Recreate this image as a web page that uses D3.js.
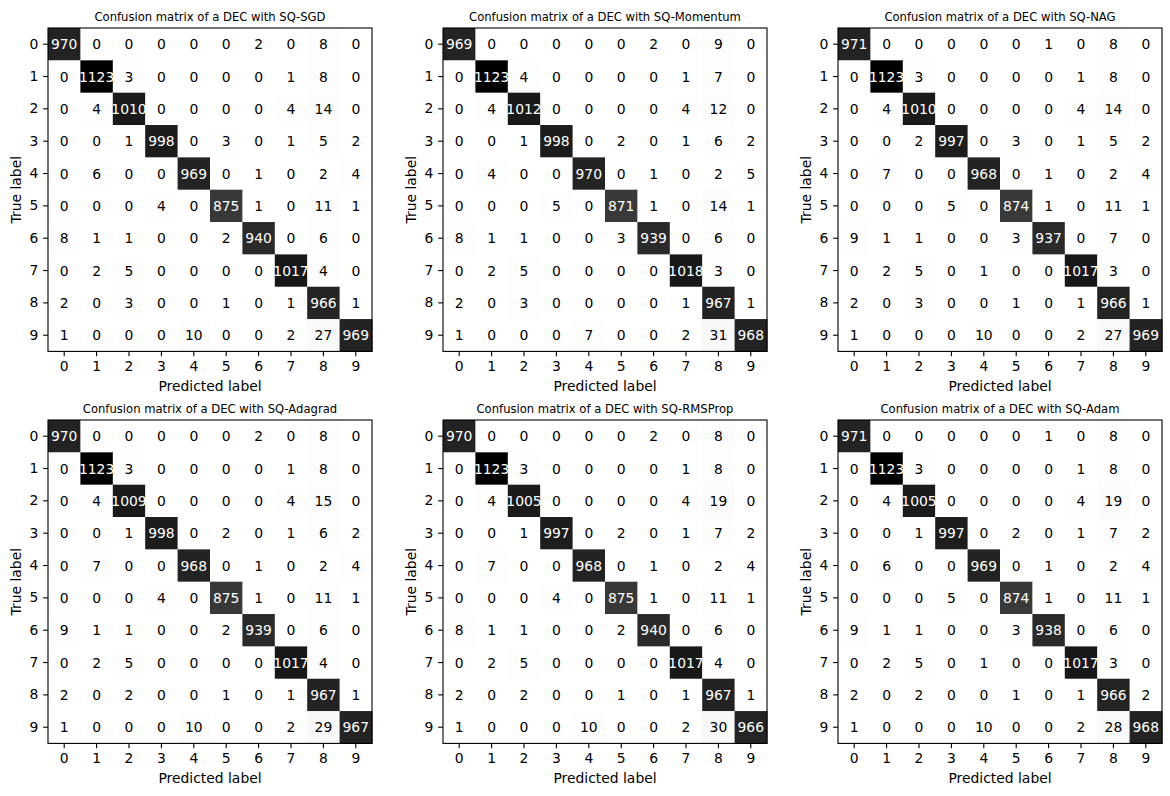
<!DOCTYPE html>
<html>
<head>
<meta charset="utf-8">
<script src="https://cdn.jsdelivr.net/npm/d3@7"></script>
<style>
  html, body { margin: 0; padding: 0; background: #ffffff; }
  svg { display: block; }
  text { font-family: "DejaVu Sans", sans-serif; }
</style>
</head>
<body>
<svg id="chart" width="1170" height="796"></svg>
<script>
const classLabels = ["0","1","2","3","4","5","6","7","8","9"];

const optimizers = ["SQ-SGD", "SQ-Momentum", "SQ-NAG", "SQ-Adagrad", "SQ-RMSProp", "SQ-Adam"];

const cmSGD = [
  [970,0,0,0,0,0,2,0,8,0],
  [0,1123,3,0,0,0,0,1,8,0],
  [0,4,1010,0,0,0,0,4,14,0],
  [0,0,1,998,0,3,0,1,5,2],
  [0,6,0,0,969,0,1,0,2,4],
  [0,0,0,4,0,875,1,0,11,1],
  [8,1,1,0,0,2,940,0,6,0],
  [0,2,5,0,0,0,0,1017,4,0],
  [2,0,3,0,0,1,0,1,966,1],
  [1,0,0,0,10,0,0,2,27,969]
];

const cmMomentum = [
  [969,0,0,0,0,0,2,0,9,0],
  [0,1123,4,0,0,0,0,1,7,0],
  [0,4,1012,0,0,0,0,4,12,0],
  [0,0,1,998,0,2,0,1,6,2],
  [0,4,0,0,970,0,1,0,2,5],
  [0,0,0,5,0,871,1,0,14,1],
  [8,1,1,0,0,3,939,0,6,0],
  [0,2,5,0,0,0,0,1018,3,0],
  [2,0,3,0,0,0,0,1,967,1],
  [1,0,0,0,7,0,0,2,31,968]
];

const cmNAG = [
  [971,0,0,0,0,0,1,0,8,0],
  [0,1123,3,0,0,0,0,1,8,0],
  [0,4,1010,0,0,0,0,4,14,0],
  [0,0,2,997,0,3,0,1,5,2],
  [0,7,0,0,968,0,1,0,2,4],
  [0,0,0,5,0,874,1,0,11,1],
  [9,1,1,0,0,3,937,0,7,0],
  [0,2,5,0,1,0,0,1017,3,0],
  [2,0,3,0,0,1,0,1,966,1],
  [1,0,0,0,10,0,0,2,27,969]
];

const cmAdagrad = [
  [970,0,0,0,0,0,2,0,8,0],
  [0,1123,3,0,0,0,0,1,8,0],
  [0,4,1009,0,0,0,0,4,15,0],
  [0,0,1,998,0,2,0,1,6,2],
  [0,7,0,0,968,0,1,0,2,4],
  [0,0,0,4,0,875,1,0,11,1],
  [9,1,1,0,0,2,939,0,6,0],
  [0,2,5,0,0,0,0,1017,4,0],
  [2,0,2,0,0,1,0,1,967,1],
  [1,0,0,0,10,0,0,2,29,967]
];

const cmRMSProp = [
  [970,0,0,0,0,0,2,0,8,0],
  [0,1123,3,0,0,0,0,1,8,0],
  [0,4,1005,0,0,0,0,4,19,0],
  [0,0,1,997,0,2,0,1,7,2],
  [0,7,0,0,968,0,1,0,2,4],
  [0,0,0,4,0,875,1,0,11,1],
  [8,1,1,0,0,2,940,0,6,0],
  [0,2,5,0,0,0,0,1017,4,0],
  [2,0,2,0,0,1,0,1,967,1],
  [1,0,0,0,10,0,0,2,30,966]
];

const cmAdam = [
  [971,0,0,0,0,0,1,0,8,0],
  [0,1123,3,0,0,0,0,1,8,0],
  [0,4,1005,0,0,0,0,4,19,0],
  [0,0,1,997,0,2,0,1,7,2],
  [0,6,0,0,969,0,1,0,2,4],
  [0,0,0,5,0,874,1,0,11,1],
  [9,1,1,0,0,3,938,0,6,0],
  [0,2,5,0,1,0,0,1017,3,0],
  [2,0,2,0,0,1,0,1,966,2],
  [1,0,0,0,10,0,0,2,28,968]
];

const matrices = [cmSGD, cmMomentum, cmNAG, cmAdagrad, cmRMSProp, cmAdam];

// ---- layout ----
const panelLeft = [48, 443, 838];
const panelTop = [28, 420];
const panelW = 324, panelH = 323.4;
const tickLen = 4.86, tickPad = 4.86;
const fontTick = 13.9;

const svg = d3.select("#chart");

matrices.forEach((cm, idx) => {
  const col = idx % 3, row = Math.floor(idx / 3);
  const g = svg.append("g").attr("transform", `translate(${panelLeft[col]},${panelTop[row]})`);

  const x = d3.scaleBand().domain(classLabels).range([0, panelW]).padding(0);
  const y = d3.scaleBand().domain(classLabels).range([0, panelH]).padding(0);

  const flat = cm.flat();
  const vmin = d3.min(flat), vmax = d3.max(flat);
  const color = d3.scaleLinear().domain([vmin, vmax]).range(["#ffffff", "#000000"]).interpolate(d3.interpolateRgb);
  const thresh = (vmax + vmin) / 2;

  const cells = [];
  cm.forEach((r, i) => r.forEach((v, j) => cells.push({ i, j, v })));

  g.selectAll("rect.cell").data(cells).enter().append("rect")
    .attr("class", "cell")
    .attr("x", d => x(classLabels[d.j]))
    .attr("y", d => y(classLabels[d.i]))
    .attr("width", x.bandwidth() + 0.5)
    .attr("height", y.bandwidth() + 0.5)
    .attr("fill", d => color(d.v));

  g.selectAll("text.val").data(cells).enter().append("text")
    .attr("class", "val")
    .attr("x", d => x(classLabels[d.j]) + x.bandwidth() / 2)
    .attr("y", d => y(classLabels[d.i]) + y.bandwidth() / 2)
    .attr("dy", "0.36em")
    .attr("text-anchor", "middle")
    .attr("font-size", fontTick)
    .attr("fill", d => d.v < thresh ? "#000000" : "#ffffff")
    .text(d => d.v);

  // frame
  g.append("rect")
    .attr("x", 0).attr("y", 0).attr("width", panelW).attr("height", panelH)
    .attr("fill", "none").attr("stroke", "#000").attr("stroke-width", 1.1);

  // axes
  const xAxis = d3.axisBottom(x).tickSize(tickLen).tickPadding(tickPad);
  const yAxis = d3.axisLeft(y).tickSize(tickLen).tickPadding(tickPad);

  const gx = g.append("g").attr("transform", `translate(0,${panelH})`).call(xAxis);
  const gy = g.append("g").call(yAxis);
  [gx, gy].forEach(a => {
    a.select(".domain").remove();
    a.selectAll(".tick line").attr("stroke", "#000").attr("stroke-width", 1.1);
    a.selectAll(".tick text")
      .attr("font-size", fontTick)
      .attr("font-family", "DejaVu Sans, sans-serif")
      .attr("fill", "#000");
  });
  gx.selectAll(".tick text").attr("dy", "0.74em");

  // title
  g.append("text")
    .attr("x", panelW / 2)
    .attr("y", -7.3)
    .attr("text-anchor", "middle")
    .attr("font-size", 11.6)
    .attr("fill", "#000")
    .text(`Confusion matrix of a DEC with ${optimizers[idx]}`);

  // x label
  g.append("text")
    .attr("x", panelW / 2)
    .attr("y", panelH + 39.5)
    .attr("text-anchor", "middle")
    .attr("font-size", fontTick)
    .attr("fill", "#000")
    .text("Predicted label");

  // y label
  g.append("text")
    .attr("transform", `translate(${-27.5},${panelH / 2}) rotate(-90)`)
    .attr("text-anchor", "middle")
    .attr("font-size", fontTick)
    .attr("fill", "#000")
    .text("True label");
});
</script>
</body>
</html>
